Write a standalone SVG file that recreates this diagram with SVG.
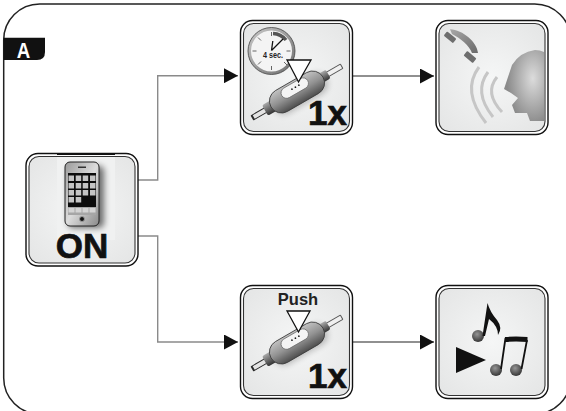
<svg xmlns="http://www.w3.org/2000/svg" width="566" height="411" viewBox="0 0 566 411">
<defs>
<marker id="arr" markerUnits="userSpaceOnUse" markerWidth="14" markerHeight="15" refX="14" refY="7.500" orient="auto"><path d="M0 0L14 7.500L0 15Z" fill="#111"/></marker>
<radialGradient id="bg" cx="50%" cy="50%" r="70%"><stop offset="0" stop-color="#f5f6f6"/><stop offset="1" stop-color="#e4e5e5"/></radialGradient>
<linearGradient id="body" x1="0" y1="0" x2="0" y2="1"><stop offset="0" stop-color="#c2c2c2"/><stop offset="0.5" stop-color="#929292"/><stop offset="1" stop-color="#4e4e4e"/></linearGradient>
<linearGradient id="neck" x1="0" y1="0" x2="0" y2="1"><stop offset="0" stop-color="#aaa"/><stop offset="1" stop-color="#333"/></linearGradient>
<linearGradient id="hs" x1="0" y1="0" x2="1" y2="1"><stop offset="0" stop-color="#a8a8a8"/><stop offset="1" stop-color="#6a6a6a"/></linearGradient>
<radialGradient id="head" cx="72%" cy="40%" r="65%"><stop offset="0" stop-color="#dcdcdc"/><stop offset="1" stop-color="#8a8a8a"/></radialGradient>
<radialGradient id="ball" cx="42%" cy="35%" r="70%"><stop offset="0" stop-color="#959595"/><stop offset="1" stop-color="#303030"/></radialGradient>
<linearGradient id="phone" x1="0" y1="0" x2="1" y2="1"><stop offset="0" stop-color="#9a9a9a"/><stop offset="0.5" stop-color="#dcdcdc"/><stop offset="1" stop-color="#8a8a8a"/></linearGradient>
<linearGradient id="ring" x1="0" y1="0" x2="1" y2="1"><stop offset="0" stop-color="#c8c8c8"/><stop offset="1" stop-color="#707070"/></linearGradient>
<filter id="soft" x="-40%" y="-40%" width="180%" height="180%"><feGaussianBlur stdDeviation="3"/></filter>
<g id="remote">
<g transform="rotate(-30)">
<rect x="-28" y="-8" width="60" height="22" rx="11" fill="#000" opacity="0.250" filter="url(#soft)"/>
<rect x="-52" y="-3" width="24" height="6" rx="1" fill="#2a2a2a"/>
<rect x="-50" y="-2" width="22" height="4" fill="#e4e4e4"/>
<rect x="28" y="-3" width="24" height="6" rx="1" fill="#555"/>
<rect x="28" y="-2" width="23" height="4" fill="#f0f0f0"/>
<rect x="-37" y="-6" width="10" height="12" rx="2" fill="url(#neck)"/>
<rect x="27" y="-5" width="9" height="10" rx="2" fill="url(#neck)"/>
<rect x="-30" y="-12" width="60" height="24" rx="12" fill="url(#body)" stroke="#3c3c3c" stroke-width="0.800"/>
<rect x="-15" y="-10" width="30" height="11" rx="5.500" fill="#f4f4f4" stroke="#666" stroke-width="0.700"/>
<circle cx="-3" cy="-5" r="0.900" fill="#111"/><circle cx="1" cy="-5" r="0.900" fill="#111"/><circle cx="5" cy="-5" r="0.900" fill="#111"/>
</g>
</g>
</defs>
<style>
.frame{fill:none;stroke:#222;stroke-width:1.500}
.outer{fill:#fff;stroke:#111;stroke-width:1.400}
.inner{fill:url(#bg);stroke:#333;stroke-width:1.100}
.conn{fill:none;stroke:#8a8a8a;stroke-width:1.400}
.line{fill:none;stroke:#222;stroke-width:1.200}
text{font-family:"Liberation Sans",Arial,sans-serif;font-weight:700;fill:#111}
.big{font-size:35px;stroke:#111;stroke-width:0.700}
.tri{fill:#fff;stroke:#111;stroke-width:1.300;stroke-linejoin:miter}
</style>
<rect x="3.700" y="4" width="567" height="410" rx="36" class="frame"/>
<g id="label-a"><path d="M3.500 37.700H45V52Q45 60 37 60H3.500Z" fill="#111"/><text x="23.500" y="58" text-anchor="middle" font-size="22" textLength="13.500" lengthAdjust="spacingAndGlyphs" style="fill:#fff">A</text></g>
<g id="connectors">
<path class="conn" d="M138 180H157.700V75.700H238" marker-end="url(#arr)"/>
<path class="conn" d="M138 236H157.700V342H238" marker-end="url(#arr)"/>
<path class="line" d="M353 76H434" marker-end="url(#arr)"/>
<path class="line" d="M353 342H434" marker-end="url(#arr)"/>
</g>
<g id="node-on">
<rect x="26" y="153.500" width="112" height="112.500" rx="12" class="outer"/>
<rect x="29" y="156.500" width="106" height="106.500" rx="10" class="inner"/>
<rect x="57" y="157" width="58" height="83" fill="#f0f1f1"/>
<path d="M57 154H115" stroke="#111" stroke-width="2"/>
<rect x="68" y="166" width="36" height="62" rx="5" fill="#000" opacity="0.550" filter="url(#soft)"/>
<rect x="65" y="162" width="34" height="64" rx="5" fill="url(#phone)" stroke="#222"/>
<rect x="68" y="173" width="28" height="42" fill="#0c0c0c"/>
<rect x="78" y="166.500" width="8" height="1.500" fill="#333"/>
<g fill="#c4c4c4">
<rect x="68.500" y="175.500" width="5.500" height="5.500"/><rect x="75.700" y="175.500" width="5.500" height="5.500"/><rect x="82.700" y="175.500" width="5.500" height="5.500"/><rect x="90" y="175.500" width="5.500" height="5.500"/>
<rect x="68.500" y="183" width="5.500" height="5.500"/><rect x="75.700" y="183" width="5.500" height="5.500"/><rect x="82.700" y="183" width="5.500" height="5.500"/><rect x="90" y="183" width="5.500" height="5.500"/>
<rect x="68.500" y="190" width="5.500" height="5.500"/><rect x="75.700" y="190" width="5.500" height="5.500"/><rect x="82.700" y="190" width="5.500" height="5.500"/><rect x="90" y="190" width="5.500" height="5.500"/>
<rect x="68.500" y="197" width="5.500" height="5.500"/><rect x="75.700" y="197" width="5.500" height="5.500"/>
</g>
<rect x="68" y="207" width="28" height="8" fill="#a6a6a6"/>
<g fill="#d4d4d4"><rect x="68.500" y="208" width="6" height="4.500"/><rect x="75.500" y="208" width="6" height="4.500"/><rect x="82.500" y="208" width="6" height="4.500"/><rect x="89.500" y="208" width="6" height="4.500"/></g>
<circle cx="82" cy="219" r="2.500" fill="#111" stroke="#999"/>
<text x="82" y="258" text-anchor="middle" class="big">ON</text>
</g>
<g id="node-timer">
<rect x="240.500" y="20.500" width="112" height="114" rx="12" class="outer"/>
<rect x="243.500" y="23.500" width="106" height="108" rx="10" class="inner"/>
<circle cx="271.500" cy="51" r="22" fill="#f4f4f4" stroke="url(#ring)" stroke-width="3"/>
<circle cx="271.500" cy="51" r="23.500" fill="none" stroke="#444" stroke-width="0.800"/>
<path d="M273 33.500A18 18 0 0 1 286 40" fill="none" stroke="#555" stroke-width="3.500"/>
<g stroke="#666" stroke-width="1"><path d="M271.500 32V36M252.500 51H256.500M286.500 51H290.500M271.500 66V70M258 37.500L261 40.500M258 64.500L261 61.500M284 62L287 65"/></g>
<path d="M271.500 50.500L272.800 41M271.500 50.500L283 39" stroke="#111" stroke-width="1.300" fill="none"/>
<text x="273" y="58" text-anchor="middle" font-size="8.500" textLength="20" lengthAdjust="spacingAndGlyphs" style="fill:#222">4 sec.</text>
<use href="#remote" x="297" y="92"/>
<path class="tri" d="M287 60H311L298.500 82Z"/>
<text x="347" y="125" text-anchor="end" class="big">1x</text>
</g>
<g id="node-voice">
<rect x="436" y="20.500" width="112" height="114" rx="12" class="outer"/>
<rect x="439" y="23.500" width="106" height="108" rx="10" class="inner"/>
<path d="M450 29.300C463 30 477 42 478 53L472 53C469 45 460 38 452 34Z" fill="url(#hs)"/>
<rect x="444" y="34.500" width="12" height="5.500" rx="1" transform="rotate(40 450 37.300)" fill="#6e6e6e"/>
<rect x="464" y="54" width="12" height="6" rx="1" transform="rotate(40 470 57)" fill="#6e6e6e"/>
<g fill="none" stroke="#c6c6c6" stroke-width="3">
<path d="M479 67Q461 91 486 123"/><path d="M488 72Q473 92 493 117"/><path d="M497 77Q484 93 502 112"/>
</g>
<path d="M544 52V121H530L527 113H515L512 105L518 98L511 93L504 89L508 77L512 65Q520 52 535 50Q540 50 544 52Z" fill="url(#head)"/>
</g>
<g id="node-push">
<rect x="240.500" y="285.500" width="112" height="113" rx="12" class="outer"/>
<rect x="243.500" y="288.500" width="106" height="107" rx="10" class="inner"/>
<text x="298" y="305" text-anchor="middle" style="font-size:16.500px;fill:#222">Push</text>
<use href="#remote" x="297" y="343"/>
<path class="tri" d="M287 311H310L298.500 332Z"/>
<text x="347" y="388" text-anchor="end" class="big">1x</text>
</g>
<g id="node-music">
<rect x="436" y="285.500" width="112" height="113" rx="12" class="outer"/>
<rect x="439" y="288.500" width="106" height="107" rx="10" class="inner"/>
<circle cx="478" cy="336" r="6" fill="url(#ball)"/>
<path d="M482.500 336L487.500 303Q490 312 497 320Q503 328 498 335Q498 326 489 319L485 336Z" fill="#111"/>
<path d="M456 347L486 360L456 373Z" fill="#111"/>
<circle cx="496" cy="370" r="6" fill="url(#ball)"/><circle cx="516" cy="370" r="6" fill="url(#ball)"/>
<path d="M501 369L505.500 338M521.500 369L527 340" fill="none" stroke="#111" stroke-width="1.800"/>
<path d="M505 337Q516 336 527.500 337V342Q516 341 505 342Z" fill="#111"/>
</g>
</svg>
